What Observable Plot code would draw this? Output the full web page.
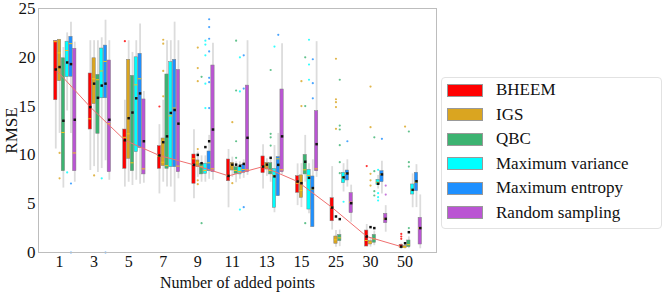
<!DOCTYPE html>
<html>
<head>
<meta charset="utf-8">
<script src="https://cdn.jsdelivr.net/npm/d3@7"></script>
<script src="https://cdn.jsdelivr.net/npm/@observablehq/plot@0.6"></script>
<style>
  body { margin: 0; background: #fff; }
  #wrap { position: relative; width: 664px; height: 292px; font-family: "Liberation Serif", serif; }
  #legend { position: absolute; left: 441px; top: 77px; width: 221px; height: 152px; box-sizing: border-box;
            border: 1px solid #e2e2e2; border-radius: 4px; background: #fff; padding-top: 0px; }
  .row { height: 24.5px; display: flex; align-items: center; }
  .sw { width: 34px; height: 11px; margin-left: 5px; border: 1px solid #999; }
  .lb { margin-left: 13px; font-size: 17px; color: #111; }
</style>
</head>
<body>
<div id="wrap"><div id="chart"></div><div id="legend"></div></div>
<script>
const categories = ["1", "3", "5", "7", "9", "11", "13", "15", "25", "30", "50"];
const methods = ["BHEEM", "IGS", "QBC", "Maximum variance", "Maximum entropy", "Random sampling"];
const colors = ["#ff0000", "#daa520", "#3cb371", "#00ffff", "#1e90ff", "#ba55d3"];
const yTicks = [0, 5, 10, 15, 20, 25];

// rows: methods; columns: categories
const q3 = [
  [21.67, 18.34, 12.6, 10.9, 10.04, 9.53, 9.84, 7.82, 5.56, 2.25, 0.79],
  [21.8, 19.9, 19.74, 11.68, 9.43, 9.19, 9.19, 7.9, 1.64, 1.16, 0.65],
  [19.9, 18.2, 18.1, 18.24, 9.1, 8.74, 9.15, 10.0, 1.8, 1.8, 1.23],
  [21.6, 20.9, 20.0, 19.5, 9.1, 8.74, 8.57, 8.47, 8.17, 7.45, 6.97],
  [22.1, 21.2, 20.36, 19.74, 10.35, 9.0, 9.77, 7.79, 8.4, 8.33, 8.17],
  [20.87, 19.67, 15.68, 18.7, 19.16, 17.1, 16.7, 14.48, 6.08, 3.96, 3.55]
];
const q1 = [
  [15.6, 12.6, 8.57, 8.57, 7.04, 7.3, 8.13, 6.11, 3.2, 0.61, 0.48],
  [17.55, 15.2, 9.6, 8.85, 8.74, 8.4, 8.5, 5.6, 0.89, 0.82, 0.48],
  [8.33, 12.16, 8.33, 8.57, 8.0, 8.06, 8.0, 8.0, 1.16, 1.0, 0.55],
  [17.96, 15.8, 10.28, 8.74, 8.06, 8.0, 4.58, 4.4, 7.1, 6.93, 5.94],
  [18.0, 15.8, 10.7, 8.74, 8.33, 8.17, 5.77, 2.6, 7.38, 7.2, 6.28],
  [8.33, 8.23, 8.0, 8.23, 8.23, 8.23, 8.23, 8.33, 4.03, 3.0, 0.82]
];
const medians = [
  [21.6, 13.7, 11.8, 9.84, 9.6, 7.9, 8.8, 7.1, 4.64, 1.23, 0.6],
  [20.45, 17.8, 12.16, 9.25, 9.19, 8.9, 8.95, 6.35, 1.3, 1.0, 0.55],
  [12.3, 17.7, 9.19, 8.9, 8.8, 8.4, 8.4, 8.47, 1.5, 1.4, 0.8],
  [20.7, 18.6, 17.18, 14.0, 8.4, 8.3, 7.9, 7.9, 7.7, 7.2, 6.42],
  [21.4, 19.57, 17.8, 14.8, 9.19, 8.5, 9.6, 6.5, 8.1, 8.0, 7.2],
  [10.2, 13.2, 8.57, 8.85, 8.57, 8.47, 8.47, 8.57, 5.15, 3.45, 2.5]
];
const means = [
  [18.75, 14.9, 11.5, 9.94, 8.98, 7.85, 8.8, 7.27, 4.6, 1.64, 0.6],
  [19.0, 17.3, 13.76, 11.3, 10.0, 9.0, 9.0, 7.1, 3.69, 2.6, 0.95],
  [13.5, 15.85, 14.34, 11.9, 9.15, 9.0, 9.7, 9.3, 3.42, 2.5, 2.08],
  [19.47, 17.1, 15.8, 14.3, 10.8, 8.88, 7.8, 7.65, 7.7, 7.04, 6.42],
  [19.3, 17.3, 16.3, 14.6, 11.4, 9.08, 8.98, 6.6, 8.1, 8.0, 7.3],
  [13.6, 13.6, 11.4, 13.2, 12.6, 11.75, 11.9, 11.1, 5.05, 3.45, 2.5]
];
const whiskerLow = [
  [10.6, 8.4, 6.7, 6.0, 5.5, 4.58, 6.5, 4.8, 2.3, 0.6, 0.3],
  [12.2, 8.8, 7.2, 7.2, 7.7, 7.7, 7.8, 4.6, 0.55, 0.55, 0.35],
  [6.6, 8.2, 6.86, 6.7, 7.2, 7.15, 7.2, 7.2, 0.6, 0.7, 0.4],
  [14.5, 8.6, 7.4, 6.7, 7.2, 7.5, 4.07, 3.96, 6.2, 6.5, 4.58],
  [12.2, 9.4, 7.0, 5.15, 7.5, 7.6, 5.77, 2.6, 6.7, 6.0, 4.6],
  [7.2, 7.4, 7.1, 7.55, 7.4, 7.9, 8.0, 7.7, 3.1, 2.08, 0.38]
];
const whiskerHigh = [
  [21.7, 21.7, 15.6, 13.1, 12.57, 10.55, 11.03, 9.08, 8.8, 2.87, 0.9],
  [21.8, 21.7, 21.7, 15.6, 10.3, 9.77, 9.6, 9.1, 2.25, 1.5, 0.8],
  [21.0, 21.7, 20.5, 21.7, 9.9, 9.3, 9.6, 12.0, 2.3, 2.2, 1.6],
  [22.5, 22.0, 21.7, 21.7, 9.9, 9.3, 10.96, 9.1, 9.1, 7.9, 8.06],
  [23.6, 23.8, 23.4, 23.6, 12.0, 9.5, 12.2, 9.5, 9.5, 9.36, 9.0],
  [21.55, 21.7, 16.5, 21.7, 21.45, 21.7, 21.4, 21.6, 6.9, 4.8, 5.9]
];
// outliers: [method index, category index, value]
const outliers = [
  [0,2,21.65],[0,3,14.96],[0,9,8.85],[0,10,1.9],[0,10,1.64],[0,10,1.4],
  [1,0,10.2],[1,0,7.6],[1,1,7.9],[1,3,21.8],[1,3,21.4],[1,3,18.6],[1,3,16.0],[1,4,21.0],[1,4,18.9],[1,4,17.55],
  [1,4,10.6],[1,4,7.4],[1,4,7.0],[1,5,13.35],[1,5,7.1],[1,7,17.55],[1,7,15.0],[1,8,19.85],[1,8,15.7],[1,8,15.4],
  [1,8,14.9],[1,8,12.67],[1,9,17.0],[1,9,12.84],[1,9,8.06],[1,9,7.4],[1,9,6.86],[1,10,12.9],
  [2,4,18.0],[2,4,3.0],[2,5,21.7],[2,5,16.6],[2,5,11.4],[2,5,9.7],[2,6,18.7],[2,6,12.16],[2,6,11.8],[2,6,10.96],
  [2,7,20.0],[2,7,15.0],[2,7,3.0],[2,8,17.7],[2,8,13.0],[2,8,12.6],[2,8,11.0],[2,8,9.25],[2,8,8.13],
  [2,9,11.8],[2,9,8.33],[2,9,6.28],[2,9,5.84],[2,10,12.4],[2,10,9.25],[2,10,8.8],[2,10,2.5],
  [3,0,8.2],[3,1,7.6],[3,4,21.7],[3,4,21.3],[3,4,20.2],[3,4,17.3],[3,4,14.8],[3,5,20.0],[3,5,16.5],[3,5,4.4],
  [3,6,21.1],[3,7,21.8],[3,7,19.26],[3,7,17.7],[3,8,5.2],[3,9,8.47],[3,9,6.08],[3,9,5.67],[3,9,5.33],
  [4,0,7.07],[4,0,0.0],[4,1,0.0],[4,4,23.9],[4,4,23.1],[4,4,21.9],[4,4,20.6],[4,4,17.9],[4,4,17.45],[4,4,14.8],
  [4,5,20.2],[4,5,16.8],[4,5,4.64],[4,6,22.3],[4,7,19.8],[4,7,17.35],[4,7,15.8],[4,8,11.4],[4,9,11.65],
  [5,9,6.86],[5,9,5.94]
];

// layout of boxes within a category group (in category units)
const step = 0.11, firstOffset = -0.11, half = 0.048;
const pos = (m, c) => c + firstOffset + m * step;

const boxes = [];
methods.forEach((method, m) => categories.forEach((cat, c) => boxes.push({
  method, cat, x: pos(m, c), q1: q1[m][c], q3: q3[m][c], med: medians[m][c],
  mean: means[m][c], lo: whiskerLow[m][c], hi: whiskerHigh[m][c]
})));
const fliers = outliers.map(([m, c, v]) => ({method: methods[m], x: pos(m, c), v}));
const bheem = boxes.filter(d => d.method === methods[0]);

const font = "Liberation Serif, Times New Roman, serif";
const chart = Plot.plot({
  width: 664, height: 292,
  marginLeft: 38, marginRight: 228, marginTop: 8, marginBottom: 40,
  style: {fontFamily: font, fontSize: "17px", color: "#111", background: "#fff"},
  x: {domain: [-0.61, 10.91]},
  y: {domain: [0, 25]},
  color: {domain: methods, range: colors},
  marks: [
    Plot.ruleX(boxes, {x: "x", y1: "lo", y2: "hi", stroke: "#dcdcdc", strokeWidth: 1.8}),
    Plot.rect(boxes, {x1: d => d.x - half, x2: d => d.x + half, y1: "q1", y2: "q3", fill: "method", stroke: "#808080", strokeWidth: 0.5}),
    Plot.ruleY(boxes, {y: "med", x1: d => d.x - half, x2: d => d.x + half, stroke: "#f5c518", strokeWidth: 1}),
    Plot.dot(fliers, {x: "x", y: "v", fill: "method", r: 1.1, fillOpacity: 0.8}),
    Plot.line(bheem, {x: "x", y: "mean", stroke: "#f07070", strokeWidth: 1}),
    Plot.dot(boxes, {x: "x", y: "mean", symbol: "square", r: 1.4, fill: "#111"}),
    Plot.frame({stroke: "#bdbdbd"}),
    Plot.axisX(d3.range(categories.length), {tickFormat: i => categories[i], tickSize: 0, tickPadding: 3, fontSize: 16,
      label: "Number of added points", labelAnchor: "center", labelArrow: "none", labelOffset: 35}),
    Plot.axisY(yTicks, {tickSize: 0, tickPadding: 3, fontSize: 17,
      label: "RMSE", labelAnchor: "center", labelArrow: "none", labelOffset: 34})
  ]
});
document.getElementById("chart").appendChild(chart);

const legend = document.getElementById("legend");
methods.forEach((m, i) => {
  const row = document.createElement("div");
  row.className = "row";
  const sw = document.createElement("div");
  sw.className = "sw"; sw.style.background = colors[i];
  const lb = document.createElement("span");
  lb.className = "lb"; lb.textContent = m;
  row.appendChild(sw); row.appendChild(lb);
  legend.appendChild(row);
});
</script>
</body>
</html>
